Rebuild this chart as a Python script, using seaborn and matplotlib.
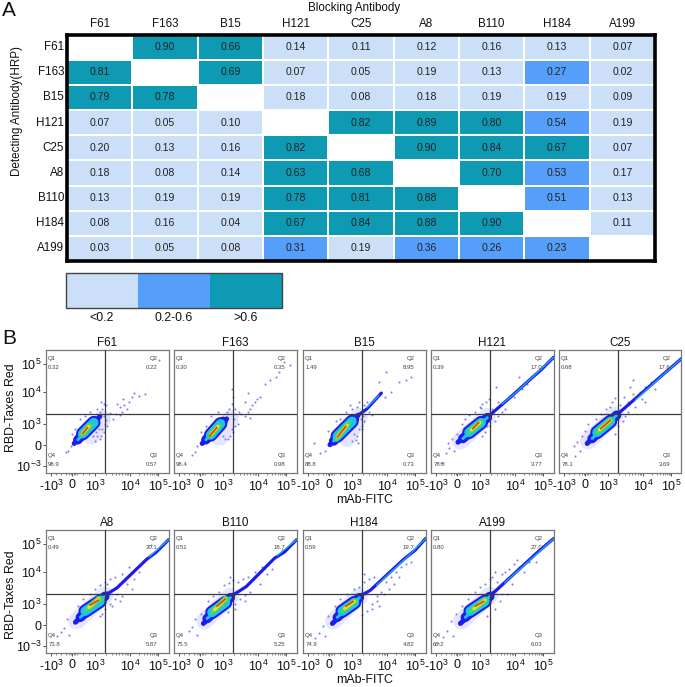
import matplotlib
matplotlib.use("Agg")
import matplotlib.pyplot as plt
from matplotlib.colors import ListedColormap, BoundaryNorm
import numpy as np
import pandas as pd
import seaborn as sns

sns.set_theme(style="white")
plt.rcParams.update({
    "font.family": ["Liberation Sans", "DejaVu Sans"],
    "mathtext.default": "regular",
    "axes.unicode_minus": False,
})

# Panel A
antibodies = ["F61", "F163", "B15", "H121", "C25", "A8", "B110", "H184", "A199"]
row_f61 = [np.nan, 0.90, 0.66, 0.14, 0.11, 0.12, 0.16, 0.13, 0.07]
row_f163 = [0.81, np.nan, 0.69, 0.07, 0.05, 0.19, 0.13, 0.27, 0.02]
row_b15 = [0.79, 0.78, np.nan, 0.18, 0.08, 0.18, 0.19, 0.19, 0.09]
row_h121 = [0.07, 0.05, 0.10, np.nan, 0.82, 0.89, 0.80, 0.54, 0.19]
row_c25 = [0.20, 0.13, 0.16, 0.82, np.nan, 0.90, 0.84, 0.67, 0.07]
row_a8 = [0.18, 0.08, 0.14, 0.63, 0.68, np.nan, 0.70, 0.53, 0.17]
row_b110 = [0.13, 0.19, 0.19, 0.78, 0.81, 0.88, np.nan, 0.51, 0.13]
row_h184 = [0.08, 0.16, 0.04, 0.67, 0.84, 0.88, 0.90, np.nan, 0.11]
row_a199 = [0.03, 0.05, 0.08, 0.31, 0.19, 0.36, 0.26, 0.23, np.nan]
legend_labels = ["<0.2", "0.2-0.6", ">0.6"]

# Panel B, quadrant percentages
q1_vals = ["0.32", "0.30", "1.49", "0.39", "0.68", "0.49", "0.51", "0.59", "0.80"]
q2_vals = ["0.22", "0.35", "8.95", "17.0", "17.6", "20.1", "18.7", "19.7", "27.0"]
q3_vals = ["0.57", "0.98", "0.73", "3.77", "3.69", "5.87", "5.25", "4.82", "6.03"]
q4_vals = ["98.9", "98.4", "88.8", "78.8", "78.1", "73.8", "75.5", "74.9", "66.2"]

# density bands, in percent of the panel
fringe_x = [[37, 46], [37, 46], [36, 46], [24, 46], [24, 46], [25, 48], [25, 46], [25, 46], [25, 48]]
fringe_y = [[30, 44], [29, 44], [28, 46], [26, 46], [26, 47], [26, 47], [26, 46], [26, 46], [26, 47]]
blue_x = [[23, 44], [23, 43], [22, 45], [22, 48], [23, 48], [24, 50], [24, 48], [24, 48], [24, 50]]
blue_y = [[24, 46], [24, 44], [23, 47], [25, 47], [24, 48], [25, 48], [24, 47], [24, 47], [24, 48]]
mid_x = [[30, 39], [30, 38], [28, 40], [31, 41], [31, 42], [32, 44], [31, 42], [32, 42], [32, 44]]
mid_y = [[32, 41], [31, 40], [30, 42], [33, 41], [33, 42], [34, 42], [33, 41], [34, 41], [34, 42]]
cyan_x = [[26, 40], [26, 40], [25, 42], [26, 46], [27, 47], [28, 48], [27, 46], [28, 46], [28, 48]]
cyan_y = [[27, 42], [27, 42], [26, 44], [28, 45], [28, 47], [29, 46], [28, 45], [29, 45], [29, 46]]
green_x = [[29, 37], [29, 37], [27, 38], [31, 41], [31, 43], [33, 45], [31, 43], [32, 43], [32, 45]]
green_y = [[31, 39], [30, 39], [28, 41], [33, 41], [33, 43], [35, 44], [33, 43], [34, 42], [34, 43]]
yellow_x = [[30, 35], [30, 36], [28, 36], [33, 40], [33, 42], [35, 43], [33, 42], [34, 42], [35, 44]]
yellow_y = [[32, 38], [31, 38], [29, 39], [35, 41], [35, 43], [37, 44], [35, 44], [36, 42], [36, 43]]
red_x = [[30, 34], [29, 35], [28, 35], [34, 39], [34, 42], [36, 43], [35, 42], [35, 41], [36, 43]]
red_y = [[32, 37], [30, 37], [29, 38], [36, 41], [36, 43], [39, 43], [38, 44], [38, 42], [38, 42]]
tail_x = [[], [], [45, 52, 64], [48, 63, 82, 90, 100], [48, 63, 86, 100], [50, 58, 82, 90, 100],
          [48, 59, 82, 90, 100], [48, 55, 82, 92, 100], [50, 62, 86, 100]]
tail_y = [[], [], [47, 52, 65], [47, 60, 77, 84, 94], [48, 61, 81, 93], [48, 53, 76, 82, 92],
          [47, 54, 77, 82, 92], [47, 51, 76, 84, 93], [48, 59, 81, 93]]
tip_x = [[], [], [52, 62], [58, 70, 84, 100], [62, 84, 100], [84, 100], [84, 100], [60, 86, 100], [60, 88, 100]]
tip_y = [[], [], [53, 63], [56, 66, 79, 94], [59, 79, 93], [78, 92], [79, 92], [55, 79, 93], [57, 82, 93]]

# single events outside the dense bands
dots_x = [
    [45, 47, 46, 44, 42, 48, 50, 49, 44, 46, 42, 47, 45, 49, 52, 55, 57, 60, 62, 64, 60, 66, 68, 58, 70, 72, 76, 81, 63, 92,
     20, 18, 16, 21, 24, 28, 32, 36, 38, 40, 43, 41, 47],
    [46, 48, 44, 47, 50, 52, 49, 45, 43, 47, 50, 53, 55, 58, 60, 62, 64, 66, 68, 70, 74, 58, 62, 48, 47, 78, 83, 86, 90, 95,
     19, 17, 15, 22, 26, 30, 36, 40, 42, 60],
    [42, 44, 46, 48, 43, 40, 45, 47, 49, 40, 38, 35, 30, 27, 20, 18, 14, 9, 50, 52, 46, 44, 48, 54, 56, 67, 72, 78, 84, 88,
     62, 68, 50, 41],
    [15, 12, 17, 19, 21, 14, 28, 31, 36, 40, 42, 45, 46, 42, 44, 48, 52, 55, 58, 55, 60, 68, 74, 78, 72, 47, 50, 41, 53, 8, 25],
    [12, 15, 17, 19, 21, 24, 30, 34, 38, 42, 43, 46, 50, 53, 56, 60, 62, 66, 68, 70, 75, 78, 70, 52, 54, 48, 46, 58, 13, 60, 56],
    [9, 12, 15, 17, 19, 26, 30, 36, 40, 44, 48, 50, 52, 56, 58, 60, 62, 52, 54, 56, 48, 46, 72, 76, 68, 70, 66, 86, 62, 50, 44],
    [12, 15, 17, 19, 22, 28, 32, 37, 41, 45, 48, 52, 56, 50, 54, 58, 60, 62, 66, 72, 76, 80, 62, 70, 88, 50, 44, 46, 58],
    [10, 13, 16, 18, 20, 26, 30, 36, 42, 46, 50, 54, 56, 60, 64, 68, 72, 76, 80, 84, 70, 66, 60, 56, 50, 52, 48, 74, 78, 88, 62, 58],
    [6, 10, 13, 16, 18, 20, 25, 30, 36, 40, 44, 48, 50, 54, 58, 62, 64, 68, 72, 76, 80, 66, 58, 56, 52, 52, 46, 60, 86, 70, 62],
]
dots_y = [
    [30, 33, 36, 28, 30, 40, 38, 43, 50, 52, 52, 56, 58, 55, 49, 44, 48, 47, 50, 55, 54, 52, 58, 56, 62, 65, 63, 64, 60, 92,
     22, 18, 17, 32, 36, 44, 46, 50, 30, 26, 36, 33, 46],
    [30, 33, 28, 36, 38, 40, 44, 52, 50, 56, 52, 50, 48, 46, 50, 52, 55, 58, 60, 62, 72, 58, 45, 62, 68, 76, 78, 82, 90, 88,
     22, 17, 15, 33, 38, 46, 50, 30, 28, 65],
    [32, 30, 36, 38, 27, 26, 24, 44, 46, 52, 55, 50, 44, 42, 34, 18, 16, 24, 55, 58, 58, 54, 36, 50, 47, 62, 66, 74, 76, 78,
     74, 82, 42, 38],
    [20, 16, 28, 18, 32, 24, 44, 47, 50, 54, 56, 58, 38, 30, 33, 38, 42, 46, 50, 58, 52, 62, 68, 72, 78, 60, 52, 53, 70, 8, 40],
    [22, 25, 18, 30, 34, 40, 44, 48, 52, 54, 58, 61, 55, 62, 58, 64, 54, 66, 60, 70, 74, 68, 58, 42, 46, 38, 32, 70, 14, 76, 50],
    [14, 17, 20, 28, 15, 38, 44, 48, 52, 55, 58, 56, 60, 44, 48, 42, 46, 40, 38, 62, 36, 32, 60, 66, 70, 52, 56, 88, 64, 50, 30],
    [18, 21, 28, 15, 32, 42, 46, 50, 55, 57, 59, 58, 60, 40, 44, 47, 62, 50, 66, 70, 64, 68, 58, 56, 84, 36, 33, 62, 42],
    [12, 16, 22, 14, 30, 38, 44, 48, 52, 54, 58, 60, 40, 46, 50, 58, 62, 66, 70, 72, 52, 48, 42, 36, 64, 34, 31, 56, 62, 74, 38, 62],
    [8, 13, 18, 26, 14, 32, 38, 44, 50, 54, 56, 60, 62, 58, 64, 60, 68, 72, 70, 66, 74, 56, 48, 42, 36, 66, 30, 66, 74, 76, 48],
]
tick_pos_x = [4.4, 21.6, 40, 68.6, 91.8]
tick_pos_y = [5.4, 22.5, 40, 66, 89]
tick_labels_x = ["-$10^{3}$", "0", "$10^{3}$", "$10^{4}$", "$10^{5}$"]
tick_labels_y = ["$10^{-3}$", "0", "$10^{3}$", "$10^{4}$", "$10^{5}$"]

W, H = 685, 687
LIGHT, MID, TEAL = "#CBDFF8", "#559FFB", "#0F9AB3"
BLUE, CYAN, GREEN = "#1C1CF0", "#1FC4E4", "#46D860"


def px_axes(fig, left, top, right, bottom):
    return fig.add_axes([left / W, 1 - bottom / H, (right - left) / W, (bottom - top) / H])


def band(ax, xs, ys, color, lw_px, alpha=1.0):
    if len(xs) == 0:
        return
    frame = pd.DataFrame({"x": xs, "y": ys})
    sns.lineplot(data=frame, x="x", y="y", ax=ax, sort=False, estimator=None, color=color, alpha=alpha,
                 linewidth=lw_px * 0.72, solid_capstyle="round", zorder=3)


def flow_panel(ax, i, left_labels, bottom_label, label_y):
    dots = pd.DataFrame({"x": dots_x[i], "y": dots_y[i]})
    sns.scatterplot(data=dots, x="x", y="y", ax=ax, color="#5A5AFF", s=2.2, linewidth=0,
                    alpha=0.8, zorder=2)
    band(ax, fringe_x[i], fringe_y[i], "#8C8CFF", 17, alpha=0.22)
    band(ax, tail_x[i], tail_y[i], BLUE, 3.2)
    band(ax, tip_x[i], tip_y[i], "#1FB4E8", 1.2)
    band(ax, blue_x[i], blue_y[i], BLUE, 5)
    band(ax, cyan_x[i], cyan_y[i], BLUE, 9.5)
    band(ax, mid_x[i], mid_y[i], BLUE, 13.5)
    band(ax, cyan_x[i], cyan_y[i], CYAN, 3)
    band(ax, mid_x[i], mid_y[i], CYAN, 9.5)
    band(ax, green_x[i], green_y[i], CYAN, 7)
    band(ax, green_x[i], green_y[i], GREEN, 4)
    band(ax, yellow_x[i], yellow_y[i], GREEN, 6)
    band(ax, yellow_x[i], yellow_y[i], "#E8E028", 3.2)
    band(ax, red_x[i], red_y[i], "#E83A20", 1.7)

    ax.axvline(48, color="#3A3A3A", lw=0.9, zorder=4)
    ax.axhline(48, color="#3A3A3A", lw=0.9, zorder=4)
    ax.set_xlim(0, 100)
    ax.set_ylim(0, 100)
    ax.set_title(antibodies[i], fontsize=8.4, pad=3, color="#111111")
    ax.set_xlabel("mAb-FITC" if bottom_label else "", fontsize=8.9, labelpad=0, color="#111111")
    ax.set_ylabel("RBD-Taxes Red" if left_labels else "", fontsize=8.9, color="#111111")
    ax.yaxis.set_label_coords(-0.24, label_y)
    ax.set_xticks(tick_pos_x)
    ax.set_xticklabels(tick_labels_x, fontsize=9, color="#111111")
    ax.set_xticks(np.r_[40 + 28.6 * np.log10(np.arange(2, 10)), 68.6 + 23.2 * np.log10(np.arange(2, 10)),
                        8, 12, 16, 19, 20.5, 22.5, 23.5, 25, 30, 35], minor=True)
    ax.set_yticks(tick_pos_y)
    if left_labels:
        ax.set_yticklabels(tick_labels_y, fontsize=9, color="#111111")
    else:
        ax.set_yticklabels([])
    ax.tick_params(axis="x", which="major", length=2.5, width=0.6, color="#333333", pad=1.5, bottom=True)
    ax.tick_params(axis="x", which="minor", length=1.4, width=0.4, color="#333333", bottom=True)
    ax.tick_params(axis="y", which="major", length=2.5 if left_labels else 0, width=0.6, color="#333333", pad=1, left=left_labels)
    for side in ax.spines.values():
        side.set_color("#777777")
        side.set_linewidth(0.9)

    for tx, ty, txt, ha in [(1.8, 92.7, "Q1", "left"), (1.8, 86, q1_vals[i], "left"),
                            (91, 92.7, "Q2", "right"), (91, 86, q2_vals[i], "right"),
                            (91, 14.4, "Q3", "right"), (91, 7, q3_vals[i], "right"),
                            (1.8, 14.4, "Q4", "left"), (1.8, 7, q4_vals[i], "left")]:
        ax.text(tx, ty, txt, fontsize=4.3, color="#444444", ha=ha, va="center", zorder=5)


def main():
    fig = plt.figure(figsize=(W / 100, H / 100), dpi=100)

    table = pd.DataFrame([row_f61, row_f163, row_b15, row_h121, row_c25, row_a8, row_b110, row_h184, row_a199],
                         index=antibodies, columns=antibodies)
    bounds = [0, 0.205, 0.6, 1.0]
    cmap = ListedColormap([LIGHT, MID, TEAL])
    norm = BoundaryNorm(bounds, cmap.N)

    ax = px_axes(fig, 67, 34.5, 655, 261)
    cax = px_axes(fig, 66, 273, 282, 308)
    sns.heatmap(table, ax=ax, cbar_ax=cax, cmap=cmap, norm=norm, annot=True, fmt=".2f",
                annot_kws={"fontsize": 7.6, "color": "#222222"}, linewidths=1.3, linecolor="white",
                cbar_kws={"orientation": "horizontal", "spacing": "uniform", "drawedges": False})
    ax.xaxis.tick_top()
    ax.tick_params(axis="both", length=0, labelsize=8.4, labelcolor="#111111", pad=3)
    ax.tick_params(axis="y", rotation=0, pad=2)
    ax.tick_params(axis="x", rotation=0)
    ax.set_xlabel("")
    ax.set_ylabel("")
    for side in ax.spines.values():
        side.set_visible(True)
        side.set_color("black")
        side.set_linewidth(2.6)

    cbar = ax.collections[0].colorbar
    cbar.set_ticks([0.1025, 0.4025, 0.8], labels=legend_labels)
    cbar.ax.minorticks_off()
    cbar.ax.tick_params(axis="x", which="major", direction="in", length=3, width=0.8, top=True, bottom=True,
                        color="#333333", labelsize=8.9, labelcolor="#111111", pad=3)
    cbar.outline.set_visible(True)
    cbar.outline.set_edgecolor("#444444")
    cbar.outline.set_linewidth(1.0)

    fig.text(354 / W, 1 - 8 / H, "Blocking Antibody", fontsize=8.4, ha="center", va="center", color="#111111")
    fig.text(17 / W, 1 - 111 / H, "Detecting Antibody(HRP)", fontsize=8.4, rotation=90, ha="center", va="center", color="#111111")
    fig.text(2 / W, 1 - 11 / H, "A", fontsize=15, ha="left", va="center", color="#111111")
    fig.text(2 / W, 1 - 338 / H, "B", fontsize=15, ha="left", va="center", color="#111111")

    top_lefts = [46, 174, 303, 431, 559]
    bottom_lefts = [46, 174, 303, 431]
    for i, left in enumerate(top_lefts):
        flow_panel(px_axes(fig, left, 350, left + 122.5, 473), i, i == 0, i == 2, 0.53)
    for j, left in enumerate(bottom_lefts):
        flow_panel(px_axes(fig, left, 530, left + 122.5, 653), j + 5, j == 0, j == 2, 0.475)

    fig.savefig("out.png", dpi=100)
    plt.close(fig)


if __name__ == "__main__":
    main()
